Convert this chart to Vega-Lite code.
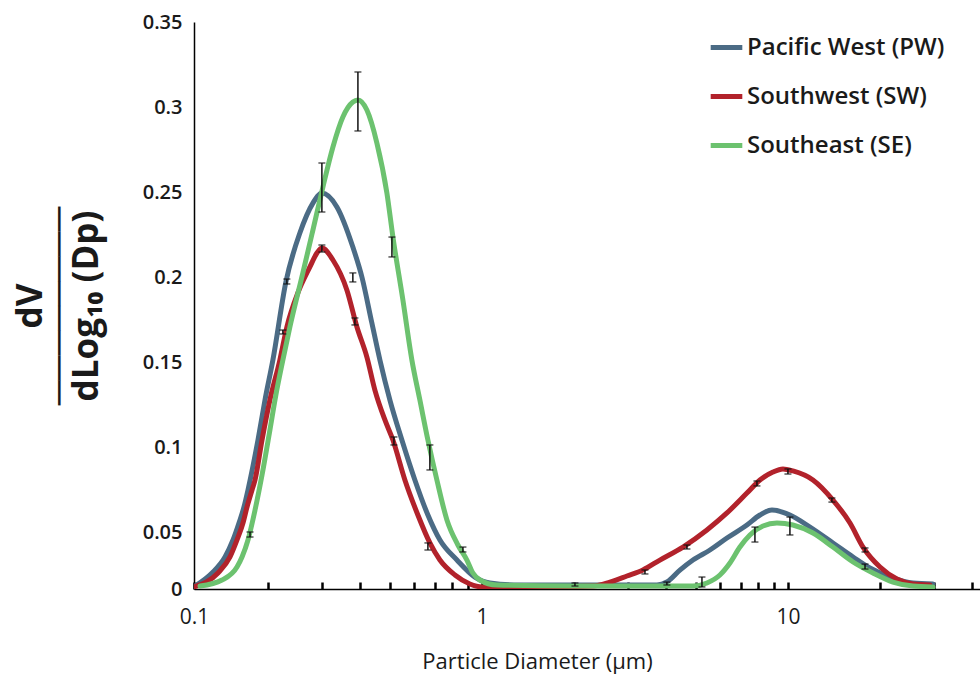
{
  "$schema": "https://vega.github.io/schema/vega-lite/v6.json",
  "autosize": {"type": "none"},
  "width": 786,
  "height": 567,
  "padding": {"left": 194, "top": 22, "right": 0, "bottom": 86},
  "background": "white",
  "config": {
    "view": {"stroke": null},
    "font": "Open Sans",
    "axis": {"grid": false, "domainColor": "#000", "domainWidth": 1.5, "labelFont": "Open Sans", "labelColor": "#1a1a1a", "titleColor": "#1a1a1a"}
  },
  "datasets": {
    "curves": [
      {"region": "Pacific West (PW)", "d": 0.1, "v": 0.002},
      {"region": "Pacific West (PW)", "d": 0.1184, "v": 0.014},
      {"region": "Pacific West (PW)", "d": 0.1337, "v": 0.0281},
      {"region": "Pacific West (PW)", "d": 0.1441, "v": 0.043},
      {"region": "Pacific West (PW)", "d": 0.1524, "v": 0.0553},
      {"region": "Pacific West (PW)", "d": 0.1597, "v": 0.0647},
      {"region": "Pacific West (PW)", "d": 0.1658, "v": 0.0747},
      {"region": "Pacific West (PW)", "d": 0.1821, "v": 0.1041},
      {"region": "Pacific West (PW)", "d": 0.1944, "v": 0.1276},
      {"region": "Pacific West (PW)", "d": 0.2075, "v": 0.1512},
      {"region": "Pacific West (PW)", "d": 0.2288, "v": 0.1971},
      {"region": "Pacific West (PW)", "d": 0.2542, "v": 0.2259},
      {"region": "Pacific West (PW)", "d": 0.2804, "v": 0.2435},
      {"region": "Pacific West (PW)", "d": 0.3, "v": 0.2494},
      {"region": "Pacific West (PW)", "d": 0.3359, "v": 0.2412},
      {"region": "Pacific West (PW)", "d": 0.3787, "v": 0.2176},
      {"region": "Pacific West (PW)", "d": 0.4054, "v": 0.2},
      {"region": "Pacific West (PW)", "d": 0.437, "v": 0.1729},
      {"region": "Pacific West (PW)", "d": 0.4642, "v": 0.1512},
      {"region": "Pacific West (PW)", "d": 0.5005, "v": 0.1276},
      {"region": "Pacific West (PW)", "d": 0.5477, "v": 0.1041},
      {"region": "Pacific West (PW)", "d": 0.6039, "v": 0.0806},
      {"region": "Pacific West (PW)", "d": 0.6661, "v": 0.06},
      {"region": "Pacific West (PW)", "d": 0.7291, "v": 0.043},
      {"region": "Pacific West (PW)", "d": 0.8288, "v": 0.0254},
      {"region": "Pacific West (PW)", "d": 0.9487, "v": 0.0105},
      {"region": "Pacific West (PW)", "d": 1.062, "v": 0.0053},
      {"region": "Pacific West (PW)", "d": 1.331, "v": 0.0035},
      {"region": "Pacific West (PW)", "d": 2.0, "v": 0.0035},
      {"region": "Pacific West (PW)", "d": 3.0, "v": 0.0035},
      {"region": "Pacific West (PW)", "d": 3.731, "v": 0.0035},
      {"region": "Pacific West (PW)", "d": 4.022, "v": 0.0061},
      {"region": "Pacific West (PW)", "d": 4.436, "v": 0.0165},
      {"region": "Pacific West (PW)", "d": 4.893, "v": 0.0254},
      {"region": "Pacific West (PW)", "d": 5.561, "v": 0.0342},
      {"region": "Pacific West (PW)", "d": 6.32, "v": 0.0447},
      {"region": "Pacific West (PW)", "d": 7.345, "v": 0.0541},
      {"region": "Pacific West (PW)", "d": 8.101, "v": 0.06},
      {"region": "Pacific West (PW)", "d": 8.866, "v": 0.0629},
      {"region": "Pacific West (PW)", "d": 10.15, "v": 0.06},
      {"region": "Pacific West (PW)", "d": 11.8, "v": 0.0529},
      {"region": "Pacific West (PW)", "d": 14.03, "v": 0.0404},
      {"region": "Pacific West (PW)", "d": 16.32, "v": 0.0281},
      {"region": "Pacific West (PW)", "d": 18.53, "v": 0.0184},
      {"region": "Pacific West (PW)", "d": 22.03, "v": 0.0096},
      {"region": "Pacific West (PW)", "d": 25.62, "v": 0.0053},
      {"region": "Pacific West (PW)", "d": 29.79, "v": 0.0044},
      {"region": "Southwest (SW)", "d": 0.1, "v": 0.0018},
      {"region": "Southwest (SW)", "d": 0.1252, "v": 0.014},
      {"region": "Southwest (SW)", "d": 0.1401, "v": 0.0281},
      {"region": "Southwest (SW)", "d": 0.1496, "v": 0.043},
      {"region": "Southwest (SW)", "d": 0.1582, "v": 0.0553},
      {"region": "Southwest (SW)", "d": 0.1643, "v": 0.0647},
      {"region": "Southwest (SW)", "d": 0.1722, "v": 0.0747},
      {"region": "Southwest (SW)", "d": 0.1771, "v": 0.0806},
      {"region": "Southwest (SW)", "d": 0.1891, "v": 0.1041},
      {"region": "Southwest (SW)", "d": 0.2029, "v": 0.1276},
      {"region": "Southwest (SW)", "d": 0.2187, "v": 0.1512},
      {"region": "Southwest (SW)", "d": 0.2305, "v": 0.1706},
      {"region": "Southwest (SW)", "d": 0.2504, "v": 0.1906},
      {"region": "Southwest (SW)", "d": 0.2741, "v": 0.2059},
      {"region": "Southwest (SW)", "d": 0.289, "v": 0.2141},
      {"region": "Southwest (SW)", "d": 0.3, "v": 0.2171},
      {"region": "Southwest (SW)", "d": 0.326, "v": 0.21},
      {"region": "Southwest (SW)", "d": 0.362, "v": 0.1924},
      {"region": "Southwest (SW)", "d": 0.3905, "v": 0.1706},
      {"region": "Southwest (SW)", "d": 0.4209, "v": 0.1529},
      {"region": "Southwest (SW)", "d": 0.447, "v": 0.1335},
      {"region": "Southwest (SW)", "d": 0.482, "v": 0.1159},
      {"region": "Southwest (SW)", "d": 0.512, "v": 0.1041},
      {"region": "Southwest (SW)", "d": 0.5602, "v": 0.0806},
      {"region": "Southwest (SW)", "d": 0.6177, "v": 0.06},
      {"region": "Southwest (SW)", "d": 0.6761, "v": 0.0404},
      {"region": "Southwest (SW)", "d": 0.7291, "v": 0.0254},
      {"region": "Southwest (SW)", "d": 0.8164, "v": 0.0123},
      {"region": "Southwest (SW)", "d": 0.9136, "v": 0.0044},
      {"region": "Southwest (SW)", "d": 1.0, "v": 0.0018},
      {"region": "Southwest (SW)", "d": 1.5, "v": 0.0018},
      {"region": "Southwest (SW)", "d": 2.306, "v": 0.0026},
      {"region": "Southwest (SW)", "d": 2.62, "v": 0.0061},
      {"region": "Southwest (SW)", "d": 2.978, "v": 0.0114},
      {"region": "Southwest (SW)", "d": 3.359, "v": 0.0167},
      {"region": "Southwest (SW)", "d": 3.816, "v": 0.0254},
      {"region": "Southwest (SW)", "d": 4.539, "v": 0.0368},
      {"region": "Southwest (SW)", "d": 5.436, "v": 0.0512},
      {"region": "Southwest (SW)", "d": 6.32, "v": 0.0612},
      {"region": "Southwest (SW)", "d": 7.345, "v": 0.0729},
      {"region": "Southwest (SW)", "d": 8.101, "v": 0.0806},
      {"region": "Southwest (SW)", "d": 8.933, "v": 0.0853},
      {"region": "Southwest (SW)", "d": 9.632, "v": 0.0871},
      {"region": "Southwest (SW)", "d": 10.38, "v": 0.0859},
      {"region": "Southwest (SW)", "d": 12.07, "v": 0.0806},
      {"region": "Southwest (SW)", "d": 14.03, "v": 0.0688},
      {"region": "Southwest (SW)", "d": 15.95, "v": 0.0553},
      {"region": "Southwest (SW)", "d": 17.59, "v": 0.0368},
      {"region": "Southwest (SW)", "d": 19.99, "v": 0.0193},
      {"region": "Southwest (SW)", "d": 22.71, "v": 0.0088},
      {"region": "Southwest (SW)", "d": 25.62, "v": 0.0044},
      {"region": "Southwest (SW)", "d": 29.12, "v": 0.0035},
      {"region": "Southeast (SE)", "d": 0.1058, "v": 0.0026},
      {"region": "Southeast (SE)", "d": 0.13, "v": 0.0079},
      {"region": "Southeast (SE)", "d": 0.1496, "v": 0.0193},
      {"region": "Southeast (SE)", "d": 0.1568, "v": 0.0281},
      {"region": "Southeast (SE)", "d": 0.1658, "v": 0.043},
      {"region": "Southeast (SE)", "d": 0.1771, "v": 0.0629},
      {"region": "Southeast (SE)", "d": 0.1891, "v": 0.0835},
      {"region": "Southeast (SE)", "d": 0.2029, "v": 0.11},
      {"region": "Southeast (SE)", "d": 0.2122, "v": 0.1306},
      {"region": "Southeast (SE)", "d": 0.2237, "v": 0.1512},
      {"region": "Southeast (SE)", "d": 0.2358, "v": 0.1706},
      {"region": "Southeast (SE)", "d": 0.26, "v": 0.2024},
      {"region": "Southeast (SE)", "d": 0.2804, "v": 0.2276},
      {"region": "Southeast (SE)", "d": 0.3023, "v": 0.2529},
      {"region": "Southeast (SE)", "d": 0.326, "v": 0.2765},
      {"region": "Southeast (SE)", "d": 0.3513, "v": 0.2941},
      {"region": "Southeast (SE)", "d": 0.3787, "v": 0.3029},
      {"region": "Southeast (SE)", "d": 0.3934, "v": 0.3041},
      {"region": "Southeast (SE)", "d": 0.4209, "v": 0.2982},
      {"region": "Southeast (SE)", "d": 0.4538, "v": 0.2788},
      {"region": "Southeast (SE)", "d": 0.4893, "v": 0.2494},
      {"region": "Southeast (SE)", "d": 0.512, "v": 0.2235},
      {"region": "Southeast (SE)", "d": 0.5518, "v": 0.1865},
      {"region": "Southeast (SE)", "d": 0.5904, "v": 0.1512},
      {"region": "Southeast (SE)", "d": 0.6271, "v": 0.1276},
      {"region": "Southeast (SE)", "d": 0.6661, "v": 0.1041},
      {"region": "Southeast (SE)", "d": 0.7127, "v": 0.0806},
      {"region": "Southeast (SE)", "d": 0.7686, "v": 0.0571},
      {"region": "Southeast (SE)", "d": 0.8349, "v": 0.0386},
      {"region": "Southeast (SE)", "d": 0.8933, "v": 0.0254},
      {"region": "Southeast (SE)", "d": 0.9346, "v": 0.014},
      {"region": "Southeast (SE)", "d": 0.985, "v": 0.0079},
      {"region": "Southeast (SE)", "d": 1.119, "v": 0.0035},
      {"region": "Southeast (SE)", "d": 2.0, "v": 0.0026},
      {"region": "Southeast (SE)", "d": 4.893, "v": 0.0026},
      {"region": "Southeast (SE)", "d": 5.436, "v": 0.0053},
      {"region": "Southeast (SE)", "d": 5.995, "v": 0.0123},
      {"region": "Southeast (SE)", "d": 6.464, "v": 0.0228},
      {"region": "Southeast (SE)", "d": 6.967, "v": 0.0368},
      {"region": "Southeast (SE)", "d": 7.513, "v": 0.0474},
      {"region": "Southeast (SE)", "d": 8.286, "v": 0.0535},
      {"region": "Southeast (SE)", "d": 9.207, "v": 0.0553},
      {"region": "Southeast (SE)", "d": 10.38, "v": 0.0541},
      {"region": "Southeast (SE)", "d": 12.07, "v": 0.0491},
      {"region": "Southeast (SE)", "d": 14.03, "v": 0.0368},
      {"region": "Southeast (SE)", "d": 16.32, "v": 0.0237},
      {"region": "Southeast (SE)", "d": 18.96, "v": 0.014},
      {"region": "Southeast (SE)", "d": 22.03, "v": 0.0061},
      {"region": "Southeast (SE)", "d": 25.62, "v": 0.0026},
      {"region": "Southeast (SE)", "d": 29.79, "v": 0.0018}
    ],
    "errors": [
      {"d": 0.3934, "lo": 0.2859, "hi": 0.3206},
      {"d": 0.3, "lo": 0.2382, "hi": 0.2671},
      {"d": 0.3, "lo": 0.2147, "hi": 0.2188},
      {"d": 0.5081, "lo": 0.2118, "hi": 0.2235},
      {"d": 0.3787, "lo": 0.1971, "hi": 0.2024},
      {"d": 0.3846, "lo": 0.1718, "hi": 0.1759},
      {"d": 0.2305, "lo": 0.1959, "hi": 0.1988},
      {"d": 0.2237, "lo": 0.1665, "hi": 0.1688},
      {"d": 0.5158, "lo": 0.1012, "hi": 0.1059},
      {"d": 0.6761, "lo": 0.0865, "hi": 0.1012},
      {"d": 0.6661, "lo": 0.0342, "hi": 0.0404},
      {"d": 0.169, "lo": 0.0456, "hi": 0.05},
      {"d": 0.8669, "lo": 0.0325, "hi": 0.0368},
      {"d": 2.014, "lo": 0.0026, "hi": 0.0053},
      {"d": 3.41, "lo": 0.0132, "hi": 0.0167},
      {"d": 4.022, "lo": 0.0035, "hi": 0.0061},
      {"d": 4.677, "lo": 0.0351, "hi": 0.0386},
      {"d": 5.236, "lo": 0.0018, "hi": 0.0105},
      {"d": 7.801, "lo": 0.0412, "hi": 0.0529},
      {"d": 7.92, "lo": 0.0771, "hi": 0.08},
      {"d": 10.0, "lo": 0.0841, "hi": 0.0871},
      {"d": 10.15, "lo": 0.0474, "hi": 0.0588},
      {"d": 13.92, "lo": 0.0676, "hi": 0.07},
      {"d": 17.86, "lo": 0.0325, "hi": 0.036},
      {"d": 17.86, "lo": 0.0175, "hi": 0.0219}
    ]
  },
  "layer": [
    {
      "data": {"name": "curves"},
      "mark": {"type": "line", "interpolate": "monotone", "strokeWidth": 5, "strokeCap": "round", "clip": true},
      "encoding": {
        "x": {
          "field": "d", "type": "quantitative",
          "scale": {"type": "log", "domain": [0.1, 0.2, 42.42], "range": [0, 74, 786], "nice": false, "zero": false},
          "axis": {
            "title": "Particle Diameter (µm)",
            "values": [0.1, 0.2, 0.3, 0.4, 0.5, 0.6, 0.7, 0.8, 0.9, 1, 2, 3, 4, 5, 6, 7, 8, 9, 10, 20, 30, 40],
            "labelExpr": "datum.value == 0.1 ? '0.1' : datum.value == 1 ? '1' : datum.value == 10 ? '10' : ''",
            "labelFontSize": 21, "labelPadding": 24, "labelFlush": false,
            "ticks": true, "tickSize": -7, "tickWidth": 2.5, "tickColor": "#000",
            "titleFontSize": 22, "titleFont": "Open Sans", "titleFontWeight": "normal",
            "titleAnchor": null, "titleX": 343, "titleY": 72, "titleBaseline": "middle", "titleAlign": "center"
          }
        },
        "y": {
          "field": "v", "type": "quantitative",
          "scale": {"domain": [0, 0.05, 0.35], "range": [567, 510, 0], "nice": false, "zero": false},
          "axis": {
            "title": ["dV", "────────", "dLog₁₀ (Dp)"],
            "values": [0, 0.05, 0.1, 0.15, 0.2, 0.25, 0.3, 0.35],
            "format": ".2~f",
            "labelFontSize": 20, "labelFontWeight": 600, "labelPadding": 12,
            "ticks": false,
            "titleFontSize": 35, "titleFontWeight": "bold", "titleFont": "Open Sans",
            "titleLineHeight": 28, "titlePadding": 38
          }
        },
        "color": {
          "field": "region", "type": "nominal",
          "scale": {"domain": ["Pacific West (PW)", "Southwest (SW)", "Southeast (SE)"], "range": ["#4b6b85", "#b2222b", "#6cc26f"]},
          "legend": {
            "title": null, "orient": "none", "legendX": 514, "legendY": 7,
            "symbolType": "stroke", "symbolStrokeWidth": 5, "symbolSize": 1000,
            "labelFontSize": 24, "labelFontWeight": 600, "labelFont": "Open Sans", "labelColor": "#1a1a1a",
            "labelLimit": 400, "rowPadding": 18, "labelOffset": 2
          }
        }
      }
    },
    {
      "data": {"name": "errors"},
      "mark": {"type": "rule", "color": "#111", "strokeWidth": 1.5},
      "encoding": {
        "x": {"field": "d", "type": "quantitative"},
        "y": {"field": "lo", "type": "quantitative"},
        "y2": {"field": "hi"}
      }
    },
    {
      "data": {"name": "errors"},
      "mark": {"type": "tick", "color": "#111", "orient": "horizontal", "size": 7, "thickness": 1.5},
      "encoding": {
        "x": {"field": "d", "type": "quantitative"},
        "y": {"field": "lo", "type": "quantitative"}
      }
    },
    {
      "data": {"name": "errors"},
      "mark": {"type": "tick", "color": "#111", "orient": "horizontal", "size": 7, "thickness": 1.5},
      "encoding": {
        "x": {"field": "d", "type": "quantitative"},
        "y": {"field": "hi", "type": "quantitative"}
      }
    }
  ]
}
